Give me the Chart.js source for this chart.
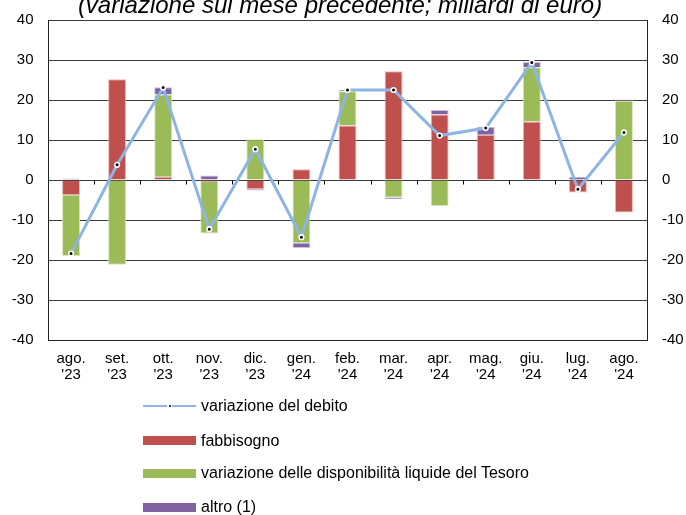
<!DOCTYPE html>
<html>
<head>
<meta charset="utf-8">
<script src="https://cdn.jsdelivr.net/npm/chart.js@4"></script>
<style>
  html, body { margin: 0; padding: 0; background: #fff; overflow: hidden; }
  #wrap { position: relative; width: 686px; height: 515px; font-family: "Liberation Sans", Arial, sans-serif; }
  canvas { position: absolute; left: 0; top: 0; }
  .lg { position: absolute; left: 143px; height: 20px; display: flex; align-items: center; font-size: 16px; color: #000; white-space: nowrap; }
  .sym { width: 53px; height: 9px; margin-right: 5px; position: relative; }
  .symline { width: 53px; height: 9px; margin-right: 5px; position: relative; }
  .symline .l { position: absolute; left: 0; right: 0; top: 3.5px; height: 2px; }
  .symline .d { position: absolute; left: 24px; top: 2px; width: 5px; height: 5px; background: #fff; }
  .symline .d i { position: absolute; left: 1.5px; top: 1.5px; width: 2px; height: 2px; background: #000; border-radius: 1px; }
</style>
</head>
<body>
<div id="wrap">
  <canvas id="c" width="686" height="515"></canvas>
  <div id="legend"></div>
</div>
<script>
const titleText = "(variazione sul mese precedente; miliardi di euro)";
const categories = [["ago.","'23"],["set.","'23"],["ott.","'23"],["nov.","'23"],["dic.","'23"],["gen.","'24"],["feb.","'24"],["mar.","'24"],["apr.","'24"],["mag.","'24"],["giu.","'24"],["lug.","'24"],["ago.","'24"]];
const debito     = [-18.4, 3.8, 23.1, -12.3, 7.7, -14.3, 22.5, 22.5, 11.1, 13.0, 29.4, -2.3, 11.9];
const fabbisogno = [-3.8, 25.2, 0.8, -0.5, -2.3, 2.7, 13.6, 27.2, 16.4, 11.3, 14.6, -3.1, -8.1];
const tesoro     = [-15.2, -21.2, 20.6, -12.9, 10.2, -15.8, 8.6, -4.4, -6.5, -0.2, 13.6, -0.1, 19.8];
const altro      = [0.4, 0.0, 1.8, 1.1, -0.3, -1.2, 0.3, -0.4, 1.1, 2.0, 1.3, 0.8, 0.3];
const seriesNames = ["variazione del debito", "fabbisogno", "variazione delle disponibilità liquide del Tesoro", "altro (1)"];
const yMin = -40, yMax = 40, yStep = 10;

const FONT = "'Liberation Sans', Arial, sans-serif";
const colLine = '#8DB4E2', colRed = '#C0504D', colGreen = '#9BBB59', colPurple = '#8064A2';

const titlePlugin = {
  id: 'titleTop',
  afterDraw(chart) {
    const ctx = chart.ctx;
    ctx.save();
    ctx.font = 'italic 24px ' + FONT;
    ctx.fillStyle = '#000';
    ctx.textAlign = 'center';
    ctx.textBaseline = 'alphabetic';
    ctx.fillText(titleText, 340, 13);
    ctx.restore();
  }
};
const zeroTicks = {
  id: 'zeroTicks',
  afterDatasetsDraw(chart) {
    const xs = chart.scales.x, ys = chart.scales.y, ctx = chart.ctx;
    const y0 = Math.round(ys.getPixelForValue(0)) + 0.5;
    ctx.save();
    ctx.strokeStyle = '#000';
    ctx.lineWidth = 1;
    ctx.beginPath();
    for (let i = 1; i < categories.length; i++) {
      const x = Math.round((xs.getPixelForValue(i - 1) + xs.getPixelForValue(i)) / 2) + 0.5;
      ctx.moveTo(x, y0);
      ctx.lineTo(x, y0 + 4);
    }
    ctx.stroke();
    ctx.restore();
  }
};

const barCommon = { type: 'bar', stack: 'bars', barPercentage: 0.39, categoryPercentage: 1, borderWidth: 1 };

new Chart(document.getElementById('c'), {
  data: {
    labels: categories,
    datasets: [
      { type: 'line', stack: 'line', label: seriesNames[0], data: debito, borderColor: colLine, borderWidth: 3, tension: 0,
        pointRadius: 2.3, pointBorderWidth: 1.6, pointBackgroundColor: '#000', pointBorderColor: '#fff', fill: false },
      Object.assign({ label: seriesNames[1], data: fabbisogno, backgroundColor: colRed, borderColor: '#E6B9B8' }, barCommon),
      Object.assign({ label: seriesNames[2], data: tesoro, backgroundColor: colGreen, borderColor: '#D7E4BD' }, barCommon),
      Object.assign({ label: seriesNames[3], data: altro, backgroundColor: colPurple, borderColor: '#CCC1DA' }, barCommon)
    ]
  },
  options: {
    responsive: false,
    animation: false,
    devicePixelRatio: 1,
    layout: { padding: { top: 20, left: 0, right: 0, bottom: 0 } },
    plugins: { legend: { display: false }, tooltip: { enabled: false } },
    scales: {
      x: {
        stacked: true,
        grid: { display: false, drawTicks: false },
        border: { display: true, color: '#222', width: 1 },
        ticks: { color: '#000', font: { family: FONT, size: 15, lineHeight: 1.12 }, padding: 10, maxRotation: 0, autoSkip: false },
        afterFit(s) { s.height = 175; s.paddingLeft = 0; s.paddingRight = 0; }
      },
      y: {
        stacked: true, position: 'left', min: yMin, max: yMax,
        ticks: { stepSize: yStep, color: '#000', font: { family: FONT, size: 15 }, padding: 14.5 },
        grid: { color: '#3a3a3a', lineWidth: 1, drawTicks: false },
        border: { display: true, color: '#222', width: 1 },
        afterFit(s) { s.width = 48; s.paddingTop = 0; s.paddingBottom = 0; }
      },
      y2: {
        position: 'right', min: yMin, max: yMax,
        ticks: { stepSize: yStep, color: '#000', font: { family: FONT, size: 15 }, padding: 15 },
        grid: { display: false, drawTicks: false },
        border: { display: true, color: '#222', width: 1 },
        afterFit(s) { s.width = 39; s.paddingTop = 0; s.paddingBottom = 0; }
      }
    }
  },
  plugins: [titlePlugin, zeroTicks]
});

// legend (vertical list)
const legendTops = [395.5, 430.5, 463, 497];
const legendCols = [colLine, colRed, colGreen, colPurple];
const lg = document.getElementById('legend');
seriesNames.forEach((name, i) => {
  const item = document.createElement('div');
  item.className = 'lg';
  item.style.top = legendTops[i] + 'px';
  const sym = document.createElement('div');
  if (i === 0) {
    sym.className = 'symline';
    sym.innerHTML = '<div class="l" style="background:' + legendCols[i] + '"></div><div class="d"><i></i></div>';
  } else {
    sym.className = 'sym';
    sym.style.background = legendCols[i];
  }
  item.appendChild(sym);
  const t = document.createElement('span');
  t.textContent = name;
  item.appendChild(t);
  lg.appendChild(item);
});
</script>
</body>
</html>
